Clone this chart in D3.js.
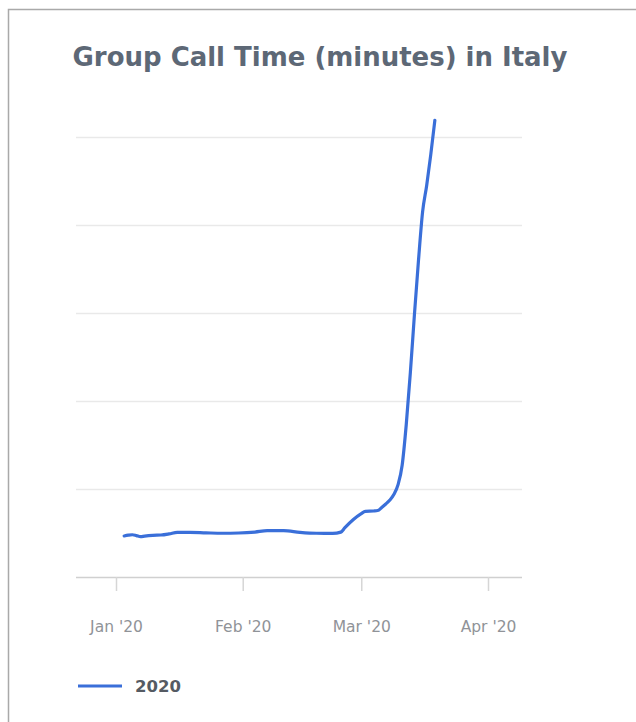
<!DOCTYPE html>
<html>
<head>
<meta charset="utf-8">
<script src="https://cdn.jsdelivr.net/npm/d3@7"></script>
<style>
  body { margin: 0; background: #fff; }
  svg { display: block; }
</style>
</head>
<body>
<div class="visHolder"></div>
<script>
// daily values, units = one gridline step
const dates = [
  "2020-01-03", "2020-01-04", "2020-01-05", "2020-01-06", "2020-01-07",
  "2020-01-08", "2020-01-10", "2020-01-12", "2020-01-14", "2020-01-16",
  "2020-01-19", "2020-01-23", "2020-01-27", "2020-01-31", "2020-02-04",
  "2020-02-07", "2020-02-11", "2020-02-15", "2020-02-19", "2020-02-23",
  "2020-02-25", "2020-02-26", "2020-02-28", "2020-03-01", "2020-03-02",
  "2020-03-04", "2020-03-05", "2020-03-06", "2020-03-07", "2020-03-08",
  "2020-03-09", "2020-03-10", "2020-03-11", "2020-03-12", "2020-03-13",
  "2020-03-14", "2020-03-15", "2020-03-16", "2020-03-17", "2020-03-18",
  "2020-03-19"
];
const values2020 = [
  0.466, 0.475, 0.48, 0.47, 0.458,
  0.465, 0.474, 0.477, 0.49, 0.508,
  0.508, 0.502, 0.497, 0.5, 0.511,
  0.526, 0.526, 0.508, 0.497, 0.495,
  0.51, 0.56, 0.65, 0.72, 0.745,
  0.75, 0.755, 0.79, 0.83, 0.875,
  0.94, 1.05, 1.27, 1.73, 2.32,
  2.98, 3.6, 4.15, 4.45, 4.8,
  5.19
];
const gridValues = [1, 2, 3, 4, 5];
const tickDates = ["2020-01-01", "2020-02-01", "2020-03-01", "2020-04-01"];
const tickLabels = ["Jan '20", "Feb '20", "Mar '20", "Apr '20"];
const seriesName = "2020";

const width = 636,
  height = 722,
  plotLeft = 76,
  plotRight = 522,
  plotBottom = 577,
  lineColor = "#3a6fd9",
  font = "'DejaVu Sans', sans-serif";

const parse = d3.timeParse("%Y-%m-%d");
const data = dates.map((d, i) => ({ date: parse(d), value: values2020[i] }));

const svg = d3
  .select(".visHolder")
  .append("svg")
  .attr("width", width)
  .attr("height", height);

svg
  .append("rect")
  .attr("x", 8.5)
  .attr("y", 9.5)
  .attr("width", 700)
  .attr("height", 800)
  .attr("fill", "#fff")
  .attr("stroke", "#a9a9a9")
  .attr("stroke-width", 1.5);

const title = svg
  .append("text")
  .text("Group Call Time (minutes) in Italy")
  .attr("x", 320)
  .attr("y", 66)
  .attr("text-anchor", "middle")
  .attr("font-family", font)
  .attr("font-weight", "bold")
  .attr("font-size", 24)
  .attr("fill", "#5d6876");
// fit title to the width seen in the picture (~495px)
const tw = title.node().getComputedTextLength();
title.attr("font-size", (24 * 495) / tw);

// Jan 1 -> 116px, Apr 1 -> 488px
const xScale = d3
  .scaleTime()
  .domain([parse("2020-01-01"), parse("2020-04-01")])
  .range([116, 488]);

const yScale = d3.scaleLinear().domain([0, 5]).range([plotBottom, 137]);

svg
  .append("g")
  .selectAll("line")
  .data(gridValues)
  .enter()
  .append("line")
  .attr("x1", plotLeft)
  .attr("x2", plotRight)
  .attr("y1", (d) => yScale(d) + 0.5)
  .attr("y2", (d) => yScale(d) + 0.5)
  .attr("stroke", "#e9e9e9")
  .attr("stroke-width", 1.5);

svg
  .append("line")
  .attr("x1", plotLeft)
  .attr("x2", plotRight)
  .attr("y1", plotBottom + 0.5)
  .attr("y2", plotBottom + 0.5)
  .attr("stroke", "#d0d0d0")
  .attr("stroke-width", 1.5);

const xAxis = d3
  .axisBottom(xScale)
  .tickValues(tickDates.map(parse))
  .tickFormat((d, i) => tickLabels[i])
  .tickSize(14)
  .tickPadding(30);

const xg = svg
  .append("g")
  .attr("transform", "translate(0," + plotBottom + ")")
  .call(xAxis);
xg.select(".domain").remove();
xg.selectAll(".tick line").attr("stroke", "#d6d6d6").attr("stroke-width", 1.5);
xg.selectAll(".tick text")
  .attr("fill", "#909398")
  .attr("font-size", 15.5)
  .attr("font-family", font);

const line = d3
  .line()
  .x((d) => xScale(d.date))
  .y((d) => yScale(d.value))
  .curve(d3.curveMonotoneX);

svg
  .append("path")
  .datum(data)
  .attr("d", line)
  .attr("fill", "none")
  .attr("stroke", lineColor)
  .attr("stroke-width", 3.2)
  .attr("stroke-linecap", "round")
  .attr("stroke-linejoin", "round");

// legend
svg
  .append("line")
  .attr("x1", 78)
  .attr("x2", 122)
  .attr("y1", 686)
  .attr("y2", 686)
  .attr("stroke", lineColor)
  .attr("stroke-width", 3);

svg
  .append("text")
  .text(seriesName)
  .attr("x", 135)
  .attr("y", 692)
  .attr("font-family", font)
  .attr("font-weight", "bold")
  .attr("font-size", 16.5)
  .attr("fill", "#555b63");
</script>
</body>
</html>
